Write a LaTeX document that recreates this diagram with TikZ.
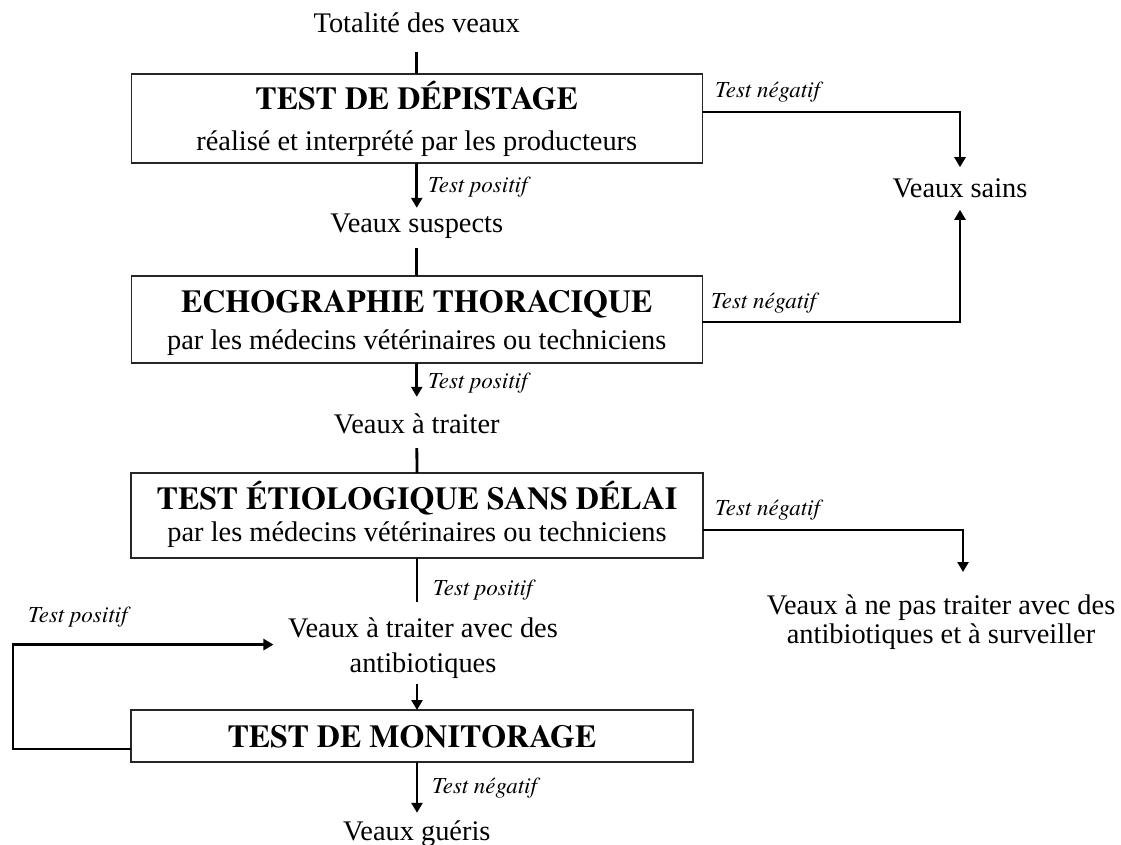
\documentclass[tikz,border=0pt]{standalone}
\usepackage{fontspec}
\setmainfont{Liberation Serif}
\newfontfamily\termesbold{texgyretermes-bold.otf}
\newfontfamily\termesitalic{texgyretermes-italic.otf}
\usetikzlibrary{arrows.meta}
\newcommand\txtfont{\fontsize{28.4}{35}\selectfont}
\newcommand\sidefont{\fontsize{28.4}{29}\selectfont}
\newcommand\headfont{\termesbold\fontsize{32}{38}\selectfont}
\newcommand\tagfont{\termesitalic\fontsize{23}{27}\selectfont}
\begin{document}
\begin{tikzpicture}[x=1pt,y=-1pt,
  box/.style={draw=black!85, line width=1.3pt, inner sep=0pt, outer sep=0pt},
  head/.style={font=\headfont, anchor=base, inner sep=0pt},
  sub/.style={font=\txtfont, anchor=base, inner sep=0pt},
  txt/.style={font=\txtfont, anchor=base, inner sep=0pt, text height=20pt, text depth=6pt},
  tag/.style={font=\tagfont, anchor=base west, inner sep=0pt},
  link/.style={line width=2.8pt},
  flow/.style={line width=2.8pt, -{Triangle[width=11pt,length=10pt]}},
]
\useasboundingbox (0,0) rectangle (1121,845);

% main column
\node[txt] (tot) at (416.75,33) {Totalité des veaux};

\node[box, minimum width=571pt, minimum height=89pt] (b1) at (416.75,118.5) {};
\node[head] (b1t) at (416.75,110) {TEST DE DÉPISTAGE};
\node[sub]  (b1s) at (416.75,151) {réalisé et interprété par les producteurs};

\node[tag] (p1) at (428,193) {Test positif};
\node[txt] (vs) at (416.75,233) {Veaux suspects};

\node[box, minimum width=571pt, minimum height=87pt] (b2) at (416.75,319.5) {};
\node[head] (b2t) at (416.75,312) {ECHOGRAPHIE THORACIQUE};
\node[sub]  (b2s) at (416.75,349) {par les médecins vétérinaires ou techniciens};

\node[tag] (p2) at (428,388) {Test positif};
\node[txt] (vt) at (416.75,433) {Veaux à traiter};

\node[box, minimum width=572pt, minimum height=85pt] (b3) at (417,515.5) {};
\node[head] (b3t) at (417,509) {TEST ÉTIOLOGIQUE SANS DÉLAI};
\node[sub]  (b3s) at (417,541) {par les médecins vétérinaires ou techniciens};

\node[tag] (p3) at (433,595) {Test positif};
\node[font=\txtfont, align=center, inner sep=0pt, anchor=north] (abx) at (423,618)
  {Veaux à traiter avec des\\antibiotiques};

\node[box, minimum width=562pt, minimum height=52pt] (b4) at (412,736) {};
\node[head] (b4t) at (412,747) {TEST DE MONITORAGE};

\node[tag] (n4) at (432,793) {Test négatif};
\node[txt] (gue) at (416.75,840) {Veaux guéris};

% right-hand outcomes
\node[tag] (n1) at (715,98) {Test négatif};
\node[tag] (n2) at (711,308) {Test négatif};
\node[tag] (n3) at (715,515) {Test négatif};
\node[txt] (sains) at (960,197) {Veaux sains};
\node[font=\sidefont, align=center, inner sep=0pt, anchor=north] (vnp) at (941,594.5)
  {Veaux à ne pas traiter avec des\\antibiotiques et à surveiller};

\node[tag] (pl) at (28,622) {Test positif};

% connectors along the main column
\draw[link, shorten <=13pt] (tot.south) -- (b1.north);
\draw[flow, shorten >=5pt] (b1.south) -- (vs.north);
\draw[link, shorten <=9pt] (vs.south) -- (b2.north);
\draw[flow, shorten >=16pt] (b2.south) -- (vt.north);
\draw[link, shorten <=9pt] (vt.south) -- (b3.north);
\draw[link, shorten >=16pt] (b3.south) -- (b3.south |- abx.north);
\draw[flow, shorten <=5pt] (abx.south -| b3.south) -- (b4.north -| b3.south);
\draw[flow, shorten >=7pt] (b4.south -| b3.south) -- (gue.north -| b3.south);

% negative branches
\draw[flow, shorten >=9.6pt] ([yshift=6.5pt]b1.east) -| (sains.north);
\draw[flow, shorten >=6.6pt] ([yshift=-2.5pt]b2.east) -| (sains.south);
\draw[flow] ([yshift=-14.5pt]b3.east) -| ([xshift=22pt,yshift=22.5pt]vnp.north);

% monitoring loop back to treatment
\draw[flow] ([yshift=-13pt]b4.west) -- ++(-118,0) |- ([xshift=-14.5pt,yshift=4pt]abx.west);
\end{tikzpicture}
\end{document}
